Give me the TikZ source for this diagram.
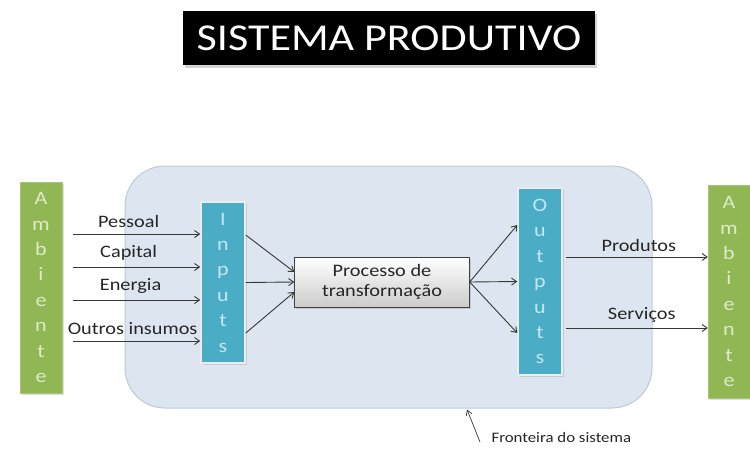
\documentclass[tikz,border=0pt]{standalone}
\usepackage{fontspec}
\setmainfont[FakeStretch=1.16]{Carlito}
\usepackage{tikz}
\usetikzlibrary{positioning,arrows.meta,shadows}

\definecolor{ambgreen}{RGB}{145,182,84}
\definecolor{ambletter}{RGB}{222,235,200}
\definecolor{ioteal}{RGB}{75,172,198}
\definecolor{ioletter}{RGB}{196,230,240}
\definecolor{sysfill}{RGB}{221,230,240}
\definecolor{sysborder}{RGB}{190,202,216}
\definecolor{arrowgray}{RGB}{55,55,55}

\begin{document}
\begin{tikzpicture}[
  x=1pt, y=-1pt,
  every node/.style={font=\fontsize{17.5}{20}\selectfont, text=black!85},
  ambbox/.style={draw=ambgreen!80!white, fill=ambgreen, minimum width=42pt,
                 inner sep=0pt, align=center, text=ambletter,
                 font=\fontsize{19}{25.4}\selectfont,
                 drop shadow={opacity=0.25, shadow xshift=1.5pt, shadow yshift=-1.5pt}},
  iobox/.style={draw=white!85!gray, line width=1.5pt, fill=ioteal, minimum width=44pt,
                inner sep=0pt, align=center, text=ioletter,
                font=\fontsize{19}{25.4}\selectfont,
                drop shadow={opacity=0.25, shadow xshift=1.5pt, shadow yshift=-1.5pt}},
  procbox/.style={draw=black!75, top color=white, bottom color=gray!40,
                  minimum width=175pt, minimum height=50pt, align=center,
                  font=\fontsize{17.5}{20}\selectfont,
                  drop shadow={opacity=0.3, shadow xshift=1.5pt, shadow yshift=-1.5pt}},
  arr/.style={-{Straight Barb[length=5pt, width=7pt]}, line width=0.9pt, arrowgray}
]

  \useasboundingbox (0,0) rectangle (750,453);

  % --- Title ---
  \node[fill=black, text=white, minimum width=412pt, minimum height=54pt,
        font=\fontsize{38}{40}\selectfont,
        drop shadow={opacity=0.35, shadow xshift=2pt, shadow yshift=-2.5pt}]
    (title) at (389, 38) {SISTEMA PRODUTIVO};

  % --- System boundary ---
  \node[draw=sysborder, fill=sysfill, line width=1pt, rounded corners=40pt,
        minimum width=527pt, minimum height=242pt] (sys) at (388.5, 287) {};

  % --- Environment, inputs, process, outputs ---
  \node[ambbox, minimum height=211pt] (ambL) at (41, 287.5)
    {A\\m\\b\\i\\e\\n\\t\\e};
  \node[iobox, minimum height=161pt] (inp) at (223, 282.5)
    {I\\n\\p\\u\\t\\s};
  \node[procbox] (proc) at (382, 282) {Processo de\\transformação};
  \node[iobox, minimum height=187pt] (out) at (540, 281.5)
    {O\\u\\t\\p\\u\\t\\s};
  \node[ambbox, minimum height=213pt] (ambR) at (729, 291.5)
    {A\\m\\b\\i\\e\\n\\t\\e};

  % --- Resources entering the system ---
  \coordinate (pes) at (73, 234);
  \coordinate (cap) at (73, 267);
  \coordinate (ene) at (73, 300);
  \coordinate (ins) at (73, 341);
  \draw[arr] (pes) -- node[above, yshift=2.5pt, xshift=-8pt] {Pessoal} (pes -| inp.west);
  \draw[arr] (cap) -- node[above, yshift=2.5pt, xshift=-8pt] {Capital} (cap -| inp.west);
  \draw[arr] (ene) -- node[above, yshift=2.5pt, xshift=-6pt] {Energia} (ene -| inp.west);
  \draw[arr] (ins) -- node[above, yshift=2.5pt, xshift=-4pt] {Outros insumos} (ins -| inp.west);

  % --- Inputs to process ---
  \draw[arr] ([yshift=47.5pt]inp.east) -- ([yshift=10pt]proc.west);
  \draw[arr] (inp.east) -- (proc.west);
  \draw[arr] ([yshift=-50.5pt]inp.east) -- ([yshift=-10pt]proc.west);

  % --- Process to outputs ---
  \draw[arr] (proc.east) -- ([yshift=56.5pt]out.west);
  \draw[arr] (proc.east) -- (out.west);
  \draw[arr] (proc.east) -- ([yshift=-51.5pt]out.west);

  % --- Products and services leaving ---
  \coordinate (prod) at ([xshift=3pt, yshift=24.5pt]out.east);
  \coordinate (serv) at ([xshift=3pt, yshift=-46.5pt]out.east);
  \draw[arr] (prod) -- node[above, yshift=2pt, xshift=2pt] {Produtos} (prod -| ambR.west);
  \draw[arr] (serv) -- node[above, yshift=2pt, xshift=5pt] {Serviços} (serv -| ambR.west);

  % --- Boundary label ---
  \node[anchor=west, font=\fontsize{14.5}{17}\selectfont] (front) at (488, 438)
    {Fronteira do sistema};
  \draw[-{Straight Barb[length=5pt, width=6pt]}, line width=0.7pt, arrowgray]
    ([xshift=-8pt, yshift=-4pt]front.west) -- ([xshift=78.5pt, yshift=-1pt]sys.south);

\end{tikzpicture}
\end{document}
